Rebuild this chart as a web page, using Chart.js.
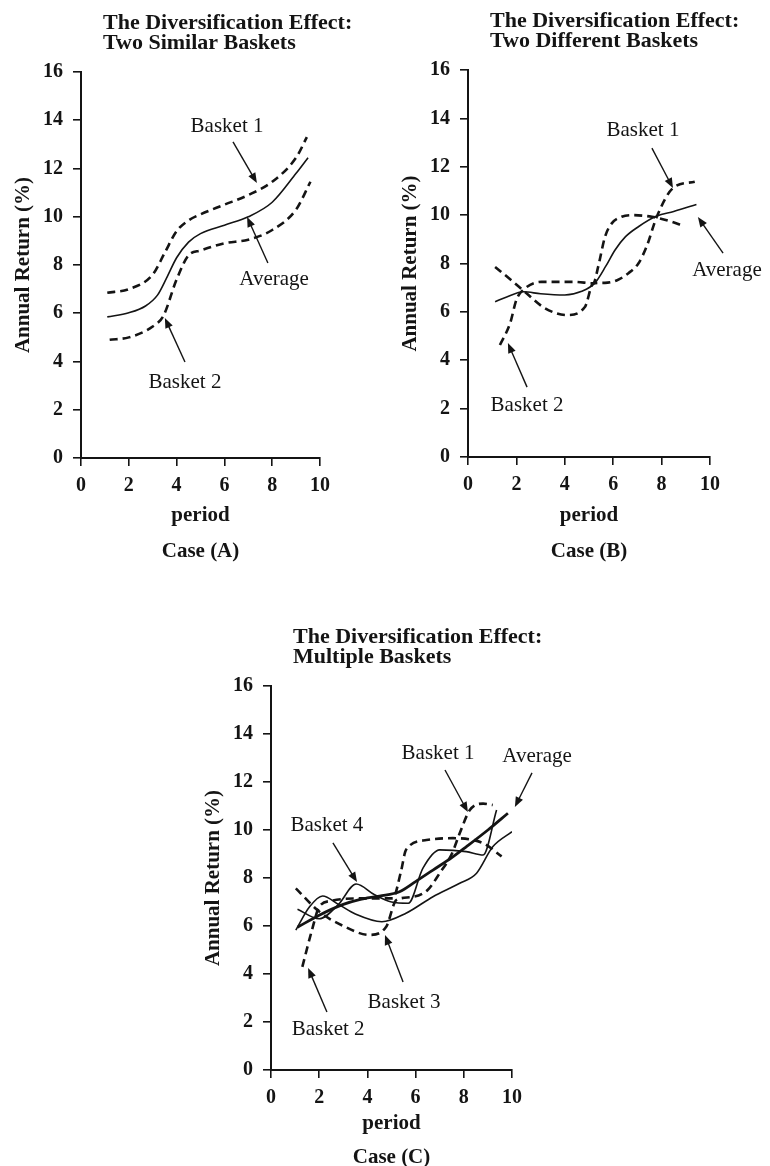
<!DOCTYPE html>
<html>
<head>
<meta charset="utf-8">
<script src="https://cdn.jsdelivr.net/npm/chart.js@4.4.1/dist/chart.umd.min.js"></script>
<style>
  html, body { margin: 0; padding: 0; background: #fff; width: 770px; height: 1166px; overflow: hidden; }
  canvas { position: absolute; left: 0; top: 0; }
</style>
</head>
<body>
<canvas id="caseA" width="770" height="1190"></canvas>
<canvas id="caseB" width="770" height="1190"></canvas>
<canvas id="caseC" width="770" height="1190"></canvas>
<script>
// ---- data (period, annual return %) ----
const xTicks = [0, 2, 4, 6, 8, 10];
const yTicks = [0, 2, 4, 6, 8, 10, 12, 14, 16];

// Case (A): two similar baskets
const a1X = [1.1, 2, 3, 3.5, 4, 4.5, 5, 6, 7, 8, 9, 9.45];
const a1Y = [6.85, 7.0, 7.6, 8.5, 9.4, 9.85, 10.1, 10.5, 10.9, 11.45, 12.45, 13.3];
const a2X = [1.2, 2, 3, 3.45, 4, 4.5, 5, 6, 7, 8, 9, 9.6];
const a2Y = [4.9, 5.0, 5.45, 5.9, 7.4, 8.4, 8.6, 8.9, 9.05, 9.45, 10.3, 11.45];
const aAvgX = [1.1, 2, 2.7, 3.2, 3.6, 4, 4.5, 5, 6, 7, 8, 9, 9.5];
const aAvgY = [5.85, 6.02, 6.3, 6.75, 7.5, 8.3, 8.95, 9.3, 9.65, 10.0, 10.6, 11.8, 12.45];

// Case (B): two different baskets
const b1X = [1.12, 1.8, 2.35, 3.18, 4.08, 4.83, 5.18, 5.66, 6.14, 6.63, 7.04, 7.38, 7.8, 8.47, 9.37];
const b1Y = [7.86, 7.3, 6.83, 6.15, 5.87, 6.2, 7.18, 7.2, 7.3, 7.6, 8.0, 8.7, 9.93, 11.12, 11.38];
const b2X = [1.32, 1.74, 2.0, 2.27, 3.04, 4.42, 5.18, 5.38, 5.66, 5.94, 6.35, 6.76, 7.6, 8.42, 8.9];
const b2Y = [4.63, 5.53, 6.5, 6.9, 7.24, 7.24, 7.18, 7.87, 9.1, 9.66, 9.93, 10.0, 9.93, 9.73, 9.55];
const bAvgX = [1.12, 1.6, 2.3, 3.0, 4.0, 4.7, 5.25, 5.7, 6.07, 6.5, 7.04, 7.8, 8.5, 9.44];
const bAvgY = [6.42, 6.62, 6.83, 6.75, 6.7, 6.85, 7.2, 7.9, 8.55, 9.1, 9.52, 9.96, 10.15, 10.44];

// Case (C): multiple baskets
const c1X = [1.03, 2.0, 3.0, 4.08, 4.78, 5.2, 5.8, 6.5, 7.0, 7.5, 7.83, 8.25, 8.8, 9.2];
const c1Y = [7.57, 6.6, 6.0, 5.63, 5.97, 7.08, 7.2, 7.5, 8.2, 9.0, 9.86, 10.83, 11.1, 11.04];
const c2X = [1.3, 1.7, 2.0, 2.5, 3.67, 5.05, 5.4, 5.6, 6.45, 7.55, 8.8, 9.57];
const c2Y = [4.3, 5.83, 6.8, 7.05, 7.15, 7.15, 8.3, 9.17, 9.58, 9.66, 9.45, 8.9];
const c3X = [1.03, 1.6, 2.14, 2.8, 3.5, 4.6, 5.6, 6.72, 7.83, 8.53, 9.2, 10.0];
const c3Y = [5.83, 6.8, 7.25, 6.9, 6.5, 6.18, 6.53, 7.22, 7.78, 8.2, 9.3, 9.93];
const c4X = [1.1, 2.0, 2.8, 3.53, 4.3, 5.0, 5.7, 6.3, 7.0, 8.1, 8.8, 9.36];
const c4Y = [6.7, 6.3, 6.9, 7.75, 7.3, 7.0, 6.95, 8.4, 9.17, 9.1, 8.96, 10.83];
const cAvgX = [1.1, 2, 3, 3.67, 4.5, 5.33, 6, 6.72, 7.5, 8.1, 9, 9.83];
const cAvgY = [5.95, 6.45, 6.9, 7.1, 7.25, 7.43, 7.85, 8.33, 8.85, 9.3, 10.0, 10.7];

// ---- look ----
const INK = '#141414';
const SERIF = '"Liberation Serif", "Times New Roman", serif';
const Y_W = 76;   // width of the y scale box
const X_H = 112;  // height of the x scale box
const CANVAS_H = 1190;

function arrow(ctx, x0, y0, x1, y1) {
  const ang = Math.atan2(y1 - y0, x1 - x0);
  const len = 10, half = 4;
  ctx.lineWidth = 1.4;
  ctx.setLineDash([]);
  ctx.beginPath();
  ctx.moveTo(x0, y0);
  ctx.lineTo(x1 - Math.cos(ang) * len * 0.8, y1 - Math.sin(ang) * len * 0.8);
  ctx.stroke();
  ctx.beginPath();
  ctx.moveTo(x1, y1);
  ctx.lineTo(x1 - Math.cos(ang) * len + Math.sin(ang) * half, y1 - Math.sin(ang) * len - Math.cos(ang) * half);
  ctx.lineTo(x1 - Math.cos(ang) * len - Math.sin(ang) * half, y1 - Math.sin(ang) * len + Math.cos(ang) * half);
  ctx.closePath();
  ctx.fill();
}

// titles above the plot and labelled arrows pointing at the curves
const overlay = {
  id: 'overlay',
  afterDraw(chart, args, opts) {
    const { ctx, chartArea } = chart;
    const xs = chart.scales.x, ys = chart.scales.y;
    ctx.save();
    ctx.fillStyle = INK;
    ctx.strokeStyle = INK;
    ctx.font = 'bold 22px ' + SERIF;
    ctx.textAlign = 'left';
    ctx.textBaseline = 'alphabetic';
    opts.title.forEach((t, i) => ctx.fillText(t, chartArea.left + 22, chartArea.top - 43 + i * 20));
    ctx.font = '21px ' + SERIF;
    ctx.textAlign = 'center';
    ctx.textBaseline = 'middle';
    opts.notes.forEach(n => {
      ctx.fillText(n.text, xs.getPixelForValue(n.at[0]), ys.getPixelForValue(n.at[1]));
      arrow(ctx,
        xs.getPixelForValue(n.from[0]), ys.getPixelForValue(n.from[1]),
        xs.getPixelForValue(n.to[0]), ys.getPixelForValue(n.to[1]));
    });
    ctx.restore();
  }
};

function line(name, xs, ys, style) {
  return {
    label: name,
    data: xs.map((v, i) => ({ x: v, y: ys[i] })),
    borderColor: INK,
    borderWidth: style === 'dash' ? 2.6 : style === 'thick' ? 2.8 : 1.6,
    borderDash: style === 'dash' ? [8, 5] : [],
    pointRadius: 0,
    cubicInterpolationMode: 'monotone',
    fill: false
  };
}

function axisBits() {
  return {
    grid: { drawOnChartArea: false, drawTicks: true, tickLength: 8, color: INK, lineWidth: 1.6 },
    border: { display: true, color: INK, width: 2 }
  };
}

function makeChart(id, box, datasets, title, caseLabel, notes, labelDrop, labelGap) {
  const firstLabelY = box.bottom + labelDrop;
  const pb = (box.bottom + X_H) - 1.5 * labelGap - firstLabelY;
  new Chart(document.getElementById(id), {
    type: 'line',
    data: { datasets },
    options: {
      responsive: false,
      animation: false,
      layout: { padding: { left: box.left - Y_W, top: box.top, right: 770 - box.right, bottom: CANVAS_H - box.bottom - X_H } },
      plugins: {
        legend: { display: false },
        tooltip: { enabled: false },
        overlay: { title, notes }
      },
      scales: {
        x: {
          type: 'linear', min: 0, max: 10,
          afterBuildTicks: s => { s.ticks = xTicks.map(v => ({ value: v })); },
          afterFit: s => { s.height = X_H; },
          ticks: { color: INK, padding: 8, maxRotation: 0, font: { family: SERIF, size: 20, weight: 'bold' } },
          title: {
            display: true, text: ['period', caseLabel], color: INK,
            font: { family: SERIF, size: 21, weight: 'bold', lineHeight: labelGap / 21 },
            padding: { top: 0, bottom: pb }
          },
          ...axisBits()
        },
        y: {
          type: 'linear', min: 0, max: 16,
          afterBuildTicks: s => { s.ticks = yTicks.map(v => ({ value: v })); },
          afterFit: s => { s.width = Y_W; },
          ticks: { color: INK, padding: 10, font: { family: SERIF, size: 20, weight: 'bold' } },
          title: {
            display: true, text: 'Annual Return (%)', color: INK,
            font: { family: SERIF, size: 21, weight: 'bold', lineHeight: 1.2 },
            padding: { top: 6, bottom: 0 }
          },
          ...axisBits()
        }
      }
    },
    plugins: [overlay]
  });
}

makeChart('caseA', { left: 81, right: 320, top: 72, bottom: 458 }, [
  line('Basket 1', a1X, a1Y, 'dash'),
  line('Basket 2', a2X, a2Y, 'dash'),
  line('Average', aAvgX, aAvgY, 'solid')
], ['The Diversification Effect:', 'Two Similar Baskets'], 'Case (A)', [
  { text: 'Basket 1', at: [6.11, 13.76], from: [6.36, 13.1], to: [7.36, 11.4] },
  { text: 'Average', at: [8.08, 7.42], from: [7.82, 8.08], to: [6.95, 9.99] },
  { text: 'Basket 2', at: [4.35, 3.11], from: [4.35, 3.98], to: [3.51, 5.8] }
], 58, 36);

makeChart('caseB', { left: 468, right: 710, top: 70, bottom: 457 }, [
  line('Basket 1', b1X, b1Y, 'dash'),
  line('Basket 2', b2X, b2Y, 'dash'),
  line('Average', bAvgX, bAvgY, 'solid')
], ['The Diversification Effect:', 'Two Different Baskets'], 'Case (B)', [
  { text: 'Basket 1', at: [7.23, 13.52], from: [7.6, 12.77], to: [8.47, 11.12] },
  { text: 'Average', at: [10.7, 7.73], from: [10.54, 8.43], to: [9.5, 9.92] },
  { text: 'Basket 2', at: [2.44, 2.11], from: [2.44, 2.89], to: [1.65, 4.71] }
], 59, 36);

makeChart('caseC', { left: 271, right: 512, top: 686, bottom: 1070 }, [
  line('Basket 1', c1X, c1Y, 'dash'),
  line('Basket 2', c2X, c2Y, 'dash'),
  line('Basket 3', c3X, c3Y, 'solid'),
  line('Basket 4', c4X, c4Y, 'solid'),
  line('Average', cAvgX, cAvgY, 'thick')
], ['The Diversification Effect:', 'Multiple Baskets'], 'Case (C)', [
  { text: 'Basket 1', at: [6.93, 13.17], from: [7.22, 12.5], to: [8.17, 10.75] },
  { text: 'Average', at: [11.04, 13.08], from: [10.83, 12.38], to: [10.12, 10.96] },
  { text: 'Basket 4', at: [2.32, 10.17], from: [2.57, 9.46], to: [3.57, 7.83] },
  { text: 'Basket 3', at: [5.52, 2.83], from: [5.48, 3.67], to: [4.73, 5.63] },
  { text: 'Basket 2', at: [2.37, 1.67], from: [2.32, 2.42], to: [1.54, 4.25] }
], 54, 34);
</script>
</body>
</html>
